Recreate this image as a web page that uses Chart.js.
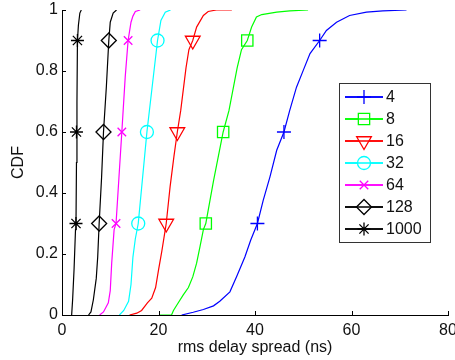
<!DOCTYPE html>
<html>
<head>
<meta charset="utf-8">
<script src="https://cdn.jsdelivr.net/npm/chart.js@4"></script>
<style>
  html, body { margin: 0; padding: 0; background: #fff; overflow: hidden; }
  #wrap { width: 470px; height: 360px; }
</style>
</head>
<body>
<div id="wrap"><canvas id="cdf" width="470" height="360"></canvas></div>
<script>
// series names (legend order)
var seriesNames = ['4', '8', '16', '32', '64', '128', '1000'];
var seriesColors = ['#0000ff', '#00ff00', '#ff0000', '#00ffff', '#ff00ff', '#000000', '#000000'];

// CDF curves: delay (ns) and cumulative probability
var delay4 = [24.8, 27.2, 29.3, 31.4, 32.7, 34.8, 36.2, 37.9, 39.1, 40.5, 41.7, 43.1, 44.5, 46.0, 47.2, 48.6, 50.0, 51.4, 53.4, 54.8, 56.9, 59.6, 63.1, 66.5, 71.4];
var cdf4   = [0, 0.009, 0.018, 0.03, 0.045, 0.076, 0.126, 0.19, 0.245, 0.3, 0.376, 0.453, 0.54, 0.6, 0.671, 0.747, 0.802, 0.857, 0.9, 0.933, 0.96, 0.982, 0.993, 0.997, 1];

var delay8 = [20.3, 22.7, 23.1, 24.1, 25.1, 26.2, 27.1, 27.9, 28.6, 29.3, 29.8, 31.4, 33.4, 34.6, 36.3, 37.2, 38.4, 39.3, 40.3, 41.4, 44.5, 47.2, 51.0];
var cdf8   = [0, 0, 0.015, 0.04, 0.065, 0.09, 0.125, 0.17, 0.224, 0.28, 0.3, 0.44, 0.6, 0.67, 0.81, 0.87, 0.9, 0.944, 0.977, 0.985, 0.993, 0.997, 1];

var delay16 = [14.0, 15.5, 16.5, 17.7, 18.6, 19.4, 20.0, 20.7, 21.4, 21.6, 22.4, 23.2, 23.9, 24.6, 25.7, 26.3, 27.1, 27.9, 29.3, 30.3, 32.0, 35.2];
var cdf16   = [0, 0.006, 0.015, 0.04, 0.055, 0.09, 0.147, 0.21, 0.28, 0.3, 0.42, 0.52, 0.6, 0.67, 0.81, 0.87, 0.9, 0.944, 0.982, 0.995, 1, 1];

var delay32 = [11.9, 12.8, 13.8, 14.3, 14.7, 15.2, 15.8, 16.7, 17.6, 18.7, 19.8, 20.5, 21.4, 22.5];
var cdf32   = [0, 0.015, 0.045, 0.1, 0.19, 0.25, 0.3, 0.45, 0.6, 0.75, 0.9, 0.966, 0.993, 1];

var delay64 = [7.8, 8.6, 9.6, 10.0, 10.3, 10.8, 11.2, 11.8, 12.4, 13.1, 13.7, 14.3, 14.7, 15.2, 16.2];
var cdf64   = [0, 0.01, 0.04, 0.08, 0.17, 0.28, 0.3, 0.45, 0.6, 0.78, 0.9, 0.96, 0.98, 0.995, 1];

var delay128 = [5.5, 6.0, 6.5, 7.1, 7.4, 7.7, 8.2, 8.6, 9.2, 9.7, 10.0, 10.6, 11.3];
var cdf128   = [0, 0.01, 0.05, 0.12, 0.19, 0.3, 0.45, 0.6, 0.75, 0.9, 0.96, 0.99, 1];

var delay1000 = [2.0, 2.2, 2.5, 2.8, 2.9, 3.0, 3.1, 3.2, 3.4, 3.7, 4.0];
var cdf1000   = [0, 0.05, 0.15, 0.28, 0.3, 0.5, 0.7, 0.9, 0.95, 0.99, 1];

// marker positions at CDF = 0.3, 0.6, 0.9
var markerCdf = [0.3, 0.6, 0.9];
var mark4 = [40.5, 46.0, 53.4];
var mark8 = [29.8, 33.4, 38.4];
var mark16 = [21.6, 23.9, 27.1];
var mark32 = [15.8, 17.6, 19.8];
var mark64 = [11.2, 12.4, 13.7];
var mark128 = [7.7, 8.6, 9.7];
var mark1000 = [2.9, 3.0, 3.2];

// axis ticks
var xTicks = [0, 20, 40, 60, 80];
var yTicks = [0, 0.2, 0.4, 0.6, 0.8, 1];
var yTickLabels = ['0', '0.2', '0.4', '0.6', '0.8', '1'];

var FONT = '"Liberation Sans", Arial, Helvetica, sans-serif';

var curves = [[delay4, cdf4], [delay8, cdf8], [delay16, cdf16], [delay32, cdf32], [delay64, cdf64], [delay128, cdf128], [delay1000, cdf1000]];
var marks = [mark4, mark8, mark16, mark32, mark64, mark128, mark1000];
var markerStyle = [
  { style: 'cross', radius: 7, rotation: 0 },
  { style: 'rect', radius: 8, rotation: 0 },
  { style: 'triangle', radius: 8.5, rotation: 180 },
  { style: 'circle', radius: 6.5, rotation: 0 },
  { style: 'crossRot', radius: 6, rotation: 0 },
  { style: 'rectRot', radius: 7.5, rotation: 0 },
  { style: 'star', radius: 6.5, rotation: 0 }
];

function toPoints(xs, ys) {
  return xs.map(function(x, i) { return { x: x, y: ys[i] }; });
}

var datasets = [];
curves.forEach(function(c, i) {
  datasets.push({
    type: 'line',
    label: seriesNames[i],
    data: toPoints(c[0], c[1]),
    borderColor: seriesColors[i],
    borderWidth: 1.2,
    pointRadius: 0,
    tension: 0,
    fill: false
  });
});
marks.forEach(function(m, i) {
  datasets.push({
    type: 'scatter',
    label: seriesNames[i] + ' marker',
    data: m.map(function(x, k) { return { x: x, y: markerCdf[k] }; }),
    borderColor: seriesColors[i],
    backgroundColor: 'rgba(0,0,0,0)',
    borderWidth: 1.3,
    pointStyle: markerStyle[i].style,
    pointRadius: markerStyle[i].radius,
    pointRotation: markerStyle[i].rotation,
    showLine: false
  });
});

// inward tick marks, matlab style
var innerTicks = {
  id: 'innerTicks',
  afterDraw: function(chart) {
    var ctx = chart.ctx, xs = chart.scales.x, ys = chart.scales.y, a = chart.chartArea;
    ctx.save();
    ctx.strokeStyle = '#000';
    ctx.lineWidth = 1;
    ctx.beginPath();
    xTicks.forEach(function(v) {
      var px = Math.round(xs.getPixelForValue(v)) + 0.5;
      ctx.moveTo(px, a.bottom);
      ctx.lineTo(px, a.bottom - 4);
    });
    yTicks.forEach(function(v) {
      var py = Math.round(ys.getPixelForValue(v)) + 0.5;
      ctx.moveTo(a.left, py);
      ctx.lineTo(a.left + 4, py);
    });
    ctx.stroke();
    ctx.restore();
  }
};

// legend box with line + marker samples
var boxLegend = {
  id: 'boxLegend',
  afterDraw: function(chart) {
    var ctx = chart.ctx;
    ctx.save();
    ctx.fillStyle = '#fff';
    ctx.fillRect(339, 83, 91, 159);
    ctx.strokeStyle = '#333';
    ctx.lineWidth = 1;
    ctx.strokeRect(339.5, 83.5, 91, 159);
    ctx.font = '16px ' + FONT;
    ctx.textBaseline = 'middle';
    seriesNames.forEach(function(name, i) {
      var y = 97 + i * 22;
      ctx.strokeStyle = seriesColors[i];
      ctx.lineWidth = 1.3;
      ctx.beginPath();
      ctx.moveTo(345, y);
      ctx.lineTo(383, y);
      ctx.stroke();
      ctx.fillStyle = '#fff';
      Chart.helpers.drawPoint(ctx, {
        pointStyle: markerStyle[i].style,
        radius: markerStyle[i].radius,
        rotation: markerStyle[i].rotation,
        borderWidth: 1.3
      }, 364, y);
      // redraw the line through the (white-filled) marker, like matlab
      ctx.beginPath();
      ctx.moveTo(345, y);
      ctx.lineTo(383, y);
      ctx.stroke();
      ctx.fillStyle = '#111';
      ctx.fillText(name, 386, y + 1);
    });
    ctx.restore();
  }
};

new Chart(document.getElementById('cdf'), {
  data: { datasets: datasets },
  plugins: [innerTicks, boxLegend],
  options: {
    responsive: false,
    animation: false,
    events: [],
    layout: { padding: { left: 0, top: 10, right: 22, bottom: 0 } },
    plugins: { legend: { display: false }, tooltip: { enabled: false } },
    scales: {
      x: {
        type: 'linear',
        min: 0, max: 80,
        afterBuildTicks: function(s) { s.ticks = xTicks.map(function(v) { return { value: v }; }); },
        afterFit: function(s) { s.height = 45; },
        grid: { display: false, drawTicks: false },
        border: { display: true, color: '#000', width: 1 },
        ticks: { color: '#111', font: { family: FONT, size: 16 }, padding: 6, maxRotation: 0 },
        title: { display: true, text: 'rms delay spread (ns)', color: '#111', font: { family: FONT, size: 16 }, padding: 3 }
      },
      y: {
        type: 'linear',
        min: 0, max: 1,
        afterBuildTicks: function(s) { s.ticks = yTicks.map(function(v) { return { value: v }; }); },
        afterFit: function(s) { s.width = 62; s.paddingTop = 0; s.paddingBottom = 0; },
        grid: { display: false, drawTicks: false },
        border: { display: true, color: '#000', width: 1 },
        ticks: {
          color: '#111', font: { family: FONT, size: 16 }, padding: 4,
          callback: function(v) { return yTickLabels[yTicks.indexOf(v)]; }
        },
        title: { display: true, text: 'CDF', color: '#111', font: { family: FONT, size: 16 }, padding: 9 }
      }
    }
  }
});
</script>
</body>
</html>
